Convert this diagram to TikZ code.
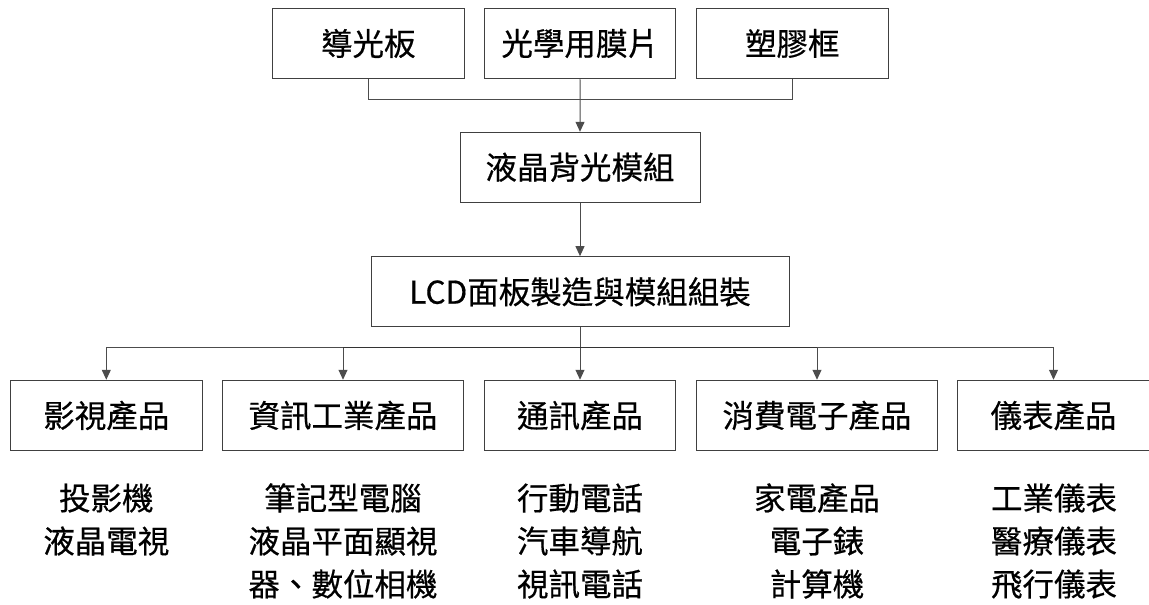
\documentclass[tikz,border=0pt]{standalone}
\usepackage{fontspec}
\setmainfont[FakeBold=0.5]{Noto Sans CJK TC}
\usetikzlibrary{arrows.meta}
\begin{document}
\begin{tikzpicture}[x=1pt,y=-1pt,
  box/.style={draw=black!75,line width=1pt,inner sep=0pt,minimum height=70.5pt,
    font=\fontsize{31.5}{38}\selectfont},
  narrow/.style={box,minimum width=191.4pt},
  wide/.style={box,minimum width=240.6pt},
  conn/.style={draw=black!70,line width=1pt},
  arr/.style={conn,-{Triangle[length=10pt,width=9pt]}},
  list/.style={align=center,inner sep=0pt,anchor=base,font=\fontsize{31.5}{43}\selectfont}]
\useasboundingbox (0,0) rectangle (1149,605);
% top row
\node[narrow] (t1) at (368.3,43.5) {導光板};
\node[narrow] (t2) at (580.2,43.5) {光學用膜片};
\node[narrow] (t3) at (792.3,43.5) {塑膠框};
\node[box,minimum width=240pt,minimum height=70pt] (bl) at (580,167.3) {液晶背光模組};
\node[box,minimum width=418pt,minimum height=70.3pt] (lcd) at (580,291.8) {LCD面板製造與模組組裝};
% bottom row
\node[narrow] (b1) at (106.3,415.5) {影視產品};
\node[wide]   (b2) at (343,415.5) {資訊工業產品};
\node[narrow] (b3) at (580,415.5) {通訊產品};
\node[wide]   (b4) at (817,415.5) {消費電子產品};
\node[narrow] (b5) at (1053.5,415.5) {儀表產品};
% lists (base anchor = baseline of last line)
\node[list] (l1) at (106.3,553) {投影機\\液晶電視};
\node[list] (l2) at (343,596) {筆記型電腦\\液晶平面顯視\\器、數位相機};
\node[list] (l3) at (580,596) {行動電話\\汽車導航\\視訊電話};
\node[list] (l4) at (817,596) {家電產品\\電子錶\\計算機};
\node[list] (l5) at (1054,596) {工業儀表\\醫療儀表\\飛行儀表};
% connectors top
\coordinate (j) at (580.2,99.3);
\draw[conn] (t1.south) |- (j) -| (t3.south);
\draw[arr] (t2.south) -- (bl.north);
\draw[arr] (bl.south) -- (lcd.north);
% connectors bottom
\coordinate (k) at (580,347.7);
\draw[conn] (lcd.south) -- (k);
\draw[conn] (b1.north |- k) -- (b5.north |- k);
\draw[draw=black!80,line width=1.5pt] (b2.north |- k) -- (b4.north |- k);
\foreach \b in {b1,b2,b3,b4,b5}
  \draw[arr] (\b.north |- k) -- (\b.north);
\end{tikzpicture}
\end{document}
